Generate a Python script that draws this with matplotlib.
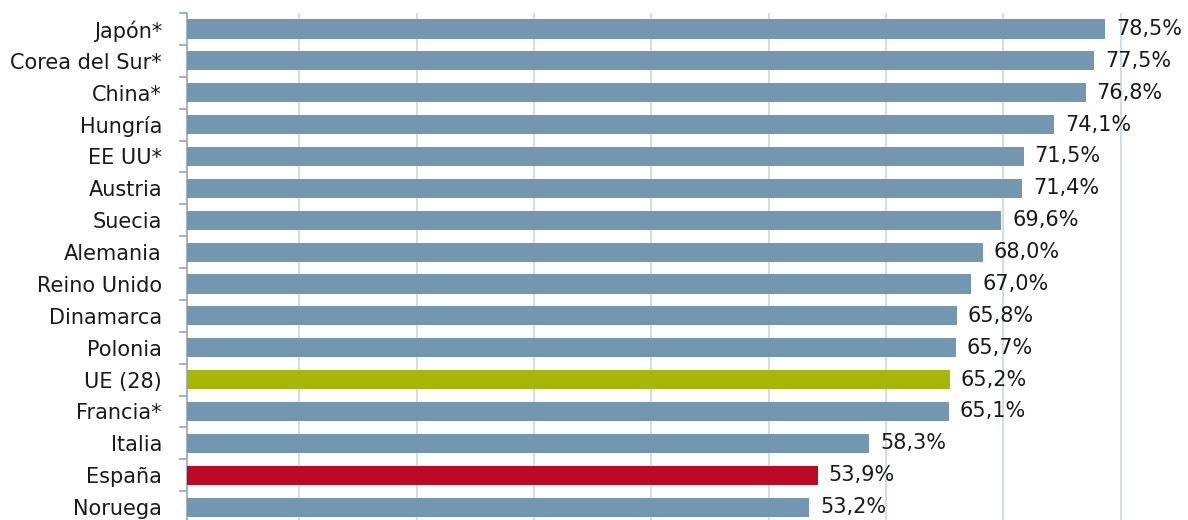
import numpy as np
import matplotlib.pyplot as plt
from matplotlib.ticker import FixedLocator

plt.rcParams['font.family'] = ['DejaVu Sans']

countries = ['Japón*', 'Corea del Sur*', 'China*', 'Hungría', 'EE UU*', 'Austria',
             'Suecia', 'Alemania', 'Reino Unido', 'Dinamarca', 'Polonia', 'UE (28)',
             'Francia*', 'Italia', 'España', 'Noruega']
values = [78.5, 77.5, 76.8, 74.1, 71.5, 71.4, 69.6, 68.0, 67.0, 65.8, 65.7, 65.2,
          65.1, 58.3, 53.9, 53.2]

blue = '#7396B1'
colors = [blue] * len(countries)
colors[countries.index('UE (28)')] = '#A6B70A'
colors[countries.index('España')] = '#BD0A24'

fig = plt.figure(figsize=(11.88, 5.2), dpi=100)
# 11.7 px per unit, zero at x=187
ax = fig.add_axes([187 / 1188, -3 / 520, 85 * 11.7 / 1188, 510 / 520])

y = np.arange(len(countries))
ax.barh(y, values, height=0.6, color=colors, zorder=3)
for yi, v in zip(y, values):
    ax.annotate(f"{v:.1f}%".replace('.', ','), (v, yi), xytext=(8, 0),
                textcoords='offset points', va='center', ha='left',
                fontsize=15, color='#1a1a1a')

ax.set_xlim(0, 85)
ax.set_ylim(len(countries) - 0.5, -0.5)
ax.set_yticks(y)
ax.set_yticklabels(countries, fontsize=15, color='#1a1a1a')
ax.yaxis.set_minor_locator(FixedLocator(np.arange(-0.5, len(countries), 1)))
ax.tick_params(axis='y', which='major', length=0, pad=18)
ax.tick_params(axis='y', which='minor', length=6, width=1.2, color='#8FA6BE')

# gridlines in the original sit slightly left of round values
ax.set_xticks(np.arange(1, 9) * 10.03 - 0.43)
ax.tick_params(axis='x', length=0, labelbottom=False)
ax.grid(axis='x', color='#C9D4E1', linewidth=1.2, zorder=0)

for s in ['top', 'right', 'bottom']:
    ax.spines[s].set_visible(False)
ax.spines['left'].set_color('#8FA6BE')
ax.spines['left'].set_linewidth(1.2)

fig.savefig('out.png', dpi=100)
